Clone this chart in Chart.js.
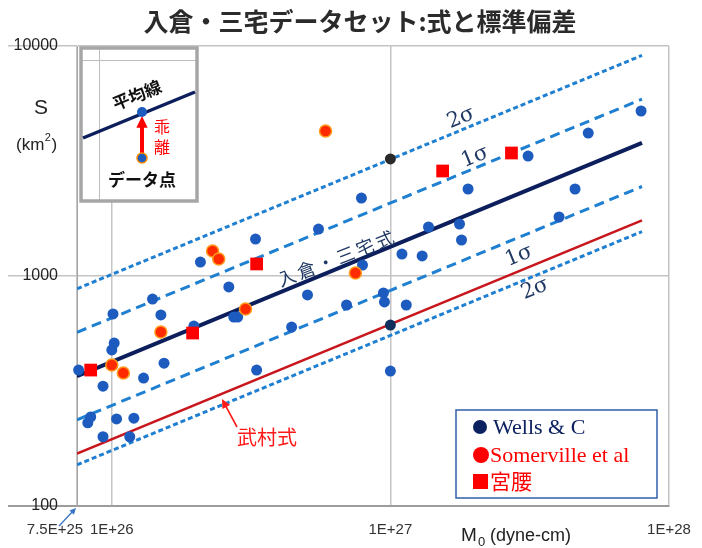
<!DOCTYPE html>
<html>
<head>
    <meta charset="utf-8">
    <title>入倉・三宅データセット</title>
    <style>
        body {
            margin: 0;
            padding: 0;
            background-color: #fff;
        }
        canvas {
            display: block;
        }
    </style>
</head>
<body>
<canvas id="chart" width="702" height="548"></canvas>

<script src="https://cdn.jsdelivr.net/npm/chart.js@4.4.1/dist/chart.umd.min.js"></script>
<script>
    // M0 (dyne-cm) と S (km2)
    const wellsM0 = [7.6e25, 8.4e25, 8.2e25, 9.3e25, 9.3e25, 1.0e26, 1.02e26, 1.01e26, 1.04e26, 1.16e26,
        1.2e26, 1.3e26, 1.4e26, 1.5e26, 1.54e26, 1.97e26, 2.08e26, 2.63e26, 2.74e26, 2.83e26,
        3.28e26, 3.31e26, 4.42e26, 5.04e26, 5.52e26, 6.96e26, 7.87e26, 7.94e26, 9.44e26, 9.52e26,
        1.14e27, 1.0e27, 1.10e27, 1.30e27, 1.37e27, 1.77e27, 1.80e27, 1.90e27, 3.12e27, 4.03e27,
        4.60e27, 5.13e27, 7.94e27];
    const wellsS = [390, 244, 230, 332, 200, 477, 511, 684, 239, 200,
        241, 360, 794, 677, 418, 606, 1150, 896, 663, 663,
        1448, 390, 600, 827, 1600, 748, 2183, 1116, 844, 771,
        748, 386, 1246, 1222, 1633, 1683, 1434, 2389, 3324, 1805,
        2389, 4184, 5217];
    const wellsDarkM0 = [1.0e27, 1.0e27];
    const wellsDarkS = [3230, 612];
    const somervilleM0 = [1.0e26, 1.10e26, 1.5e26, 2.3e26, 2.42e26, 3.02e26, 5.85e26, 7.49e26];
    const somervilleS = [410, 379, 571, 1284, 1186, 719, 4270, 1030];
    const miyakoshiM0 = [8.4e25, 1.95e26, 3.31e26, 1.54e27, 2.72e27];
    const miyakoshiS = [390, 565, 1128, 2861, 3426];

    // 直線の両端
    const lineM0 = [7.5e25, 8.0e27];
    const meanS = [367, 3790];
    const plus1S = [569, 5870];
    const plus2S = [880, 9100];
    const minus1S = [237, 2450];
    const minus2S = [151, 1560];
    const takemuraS = [169, 1744];

    const xTicks = [7.5e25, 1e26, 1e27, 1e28];
    const xTickLabels = ['7.5E+25', '1E+26', '1E+27', '1E+28'];
    const yTicks = [100, 1000, 10000];

    function pairs(xs, ys) {
        return xs.map((x, i) => ({x: x, y: ys[i]}));
    }

    function lineSet(ys, color, width, dash) {
        return {
            data: pairs(lineM0, ys),
            showLine: true,
            borderColor: color,
            borderWidth: width,
            borderDash: dash,
            pointRadius: 0,
            fill: false
        };
    }

    function arrow(ctx, x1, y1, x2, y2, color, width, head) {
        const a = Math.atan2(y2 - y1, x2 - x1);
        ctx.strokeStyle = color;
        ctx.fillStyle = color;
        ctx.lineWidth = width;
        ctx.beginPath();
        ctx.moveTo(x1, y1);
        ctx.lineTo(x2 - Math.cos(a) * head * 0.8, y2 - Math.sin(a) * head * 0.8);
        ctx.stroke();
        ctx.beginPath();
        ctx.moveTo(x2, y2);
        ctx.lineTo(x2 - head * Math.cos(a - 0.45), y2 - head * Math.sin(a - 0.45));
        ctx.lineTo(x2 - head * Math.cos(a + 0.45), y2 - head * Math.sin(a + 0.45));
        ctx.closePath();
        ctx.fill();
    }

    function rotText(ctx, text, x, y, deg) {
        ctx.save();
        ctx.translate(x, y);
        ctx.rotate(deg * Math.PI / 180);
        ctx.fillText(text, 0, 0);
        ctx.restore();
    }

    const extras = {
        id: 'extras',
        afterDraw(chart) {
            const ctx = chart.ctx;
            const xs = chart.scales.x;
            ctx.save();
            ctx.textAlign = 'center';
            ctx.textBaseline = 'middle';

            // タイトル
            ctx.fillStyle = '#2b2b2b';
            ctx.font = 'bold 25px "Noto Sans CJK JP"';
            ctx.fillText('入倉・三宅データセット:式と標準偏差', 360, 21);

            // x 目盛
            ctx.fillStyle = '#333';
            ctx.font = '15px "Liberation Sans"';
            xTicks.forEach((v, i) => {
                let px = xs.getPixelForValue(v);
                if (i === 0) px -= 22;
                ctx.fillText(xTickLabels[i], px, 530);
            });
            arrow(ctx, 59, 526, 76, 508, '#3a72c4', 1.3, 7);

            // 軸タイトル
            ctx.fillStyle = '#222';
            ctx.textAlign = 'left';
            ctx.font = '19px "Liberation Sans"';
            ctx.fillText('M', 461, 536);
            ctx.font = '13px "Liberation Sans"';
            ctx.fillText('0', 478, 542);
            ctx.font = '18px "Liberation Sans"';
            ctx.fillText(' (dyne-cm)', 485, 536);

            ctx.textAlign = 'center';
            ctx.font = '21px "Liberation Sans"';
            ctx.fillText('S', 41, 108);
            ctx.textAlign = 'left';
            let tx = 16;
            ctx.font = '17px "Liberation Sans"';
            ctx.fillText('(km', tx, 145);
            tx += ctx.measureText('(km').width;
            ctx.font = '11px "Liberation Sans"';
            ctx.fillText('2', tx + 0.5, 138);
            tx += ctx.measureText('2').width + 1;
            ctx.font = '17px "Liberation Sans"';
            ctx.fillText(')', tx, 145);

            // 線のラベル
            ctx.textAlign = 'center';
            ctx.fillStyle = '#1f3864';
            ctx.font = '21px "DejaVu Serif"';
            rotText(ctx, '2σ', 461, 118, -22);
            rotText(ctx, '1σ', 475, 157, -22);
            rotText(ctx, '1σ', 519, 256, -22);
            rotText(ctx, '2σ', 535, 289, -22);
            ctx.font = '18px "Noto Sans CJK JP"';
            ctx.letterSpacing = '3px';
            rotText(ctx, '入倉・三宅式', 337, 258, -21);
            ctx.letterSpacing = '0px';

            ctx.fillStyle = '#ff1a1a';
            ctx.font = '20px "Noto Sans CJK JP"';
            ctx.fillText('武村式', 267, 437);
            arrow(ctx, 237, 427, 222, 399, '#ff1a1a', 1.6, 10);

            // 説明図
            ctx.fillStyle = '#fff';
            ctx.fillRect(81, 48, 116, 153);
            ctx.strokeStyle = '#bdbdbd';
            ctx.lineWidth = 1;
            ctx.beginPath();
            ctx.moveTo(99.5, 49);
            ctx.lineTo(99.5, 200);
            ctx.moveTo(82, 60.5);
            ctx.lineTo(196, 60.5);
            ctx.stroke();
            ctx.strokeStyle = '#a6a6a6';
            ctx.lineWidth = 3.5;
            ctx.strokeRect(81, 48, 116, 153);
            ctx.strokeStyle = '#0c1f5c';
            ctx.lineWidth = 3.5;
            ctx.beginPath();
            ctx.moveTo(83, 138);
            ctx.lineTo(195, 92);
            ctx.stroke();
            arrow(ctx, 142, 154, 142, 116, '#ff0000', 4, 13);
            ctx.fillStyle = '#1d5bbf';
            ctx.beginPath();
            ctx.arc(142, 112, 5, 0, Math.PI * 2);
            ctx.fill();
            ctx.beginPath();
            ctx.arc(142, 158, 5, 0, Math.PI * 2);
            ctx.fill();
            ctx.strokeStyle = '#ff8c00';
            ctx.lineWidth = 1.5;
            ctx.stroke();
            ctx.fillStyle = '#111';
            ctx.font = 'bold 17px "Noto Sans CJK JP"';
            rotText(ctx, '平均線', 137, 95, -22);
            ctx.fillText('データ点', 142, 180);
            ctx.fillStyle = '#ff0000';
            ctx.font = '16px "Noto Sans CJK JP"';
            ctx.fillText('乖', 162, 127);
            ctx.fillText('離', 162, 147);

            // 凡例
            ctx.fillStyle = '#fff';
            ctx.fillRect(456, 410, 201, 88);
            ctx.strokeStyle = '#2f5fa8';
            ctx.lineWidth = 1.5;
            ctx.strokeRect(456, 410, 201, 88);
            ctx.textAlign = 'left';
            ctx.fillStyle = '#0b2160';
            ctx.beginPath();
            ctx.arc(480, 427, 7, 0, Math.PI * 2);
            ctx.fill();
            ctx.font = '22px "Liberation Serif"';
            ctx.fillText('Wells & C', 493, 428);
            ctx.fillStyle = '#ff0000';
            ctx.beginPath();
            ctx.arc(481, 455, 8, 0, Math.PI * 2);
            ctx.fill();
            ctx.fillText('Somerville et al', 490, 456);
            ctx.fillRect(473, 474, 15, 15);
            ctx.font = '21px "Noto Sans CJK JP"';
            ctx.fillText('宮腰', 490, 481);

            ctx.restore();
        }
    };

    const ctx = document.getElementById('chart');

    new Chart(ctx, {
        type: 'scatter',
        data: {
            datasets: [
                {
                    label: '宮腰',
                    data: pairs(miyakoshiM0, miyakoshiS),
                    pointStyle: 'rect',
                    pointRadius: 9,
                    backgroundColor: '#ff0000',
                    borderColor: '#ff0000',
                    borderWidth: 0,
                    clip: false
                },
                {
                    label: 'Somerville et al',
                    data: pairs(somervilleM0, somervilleS),
                    pointRadius: 6,
                    backgroundColor: '#ff2a00',
                    borderColor: '#ff9a1a',
                    borderWidth: 1.5,
                    clip: false
                },
                {
                    label: 'Wells & C (dark)',
                    data: pairs(wellsDarkM0, wellsDarkS),
                    pointRadius: 5.5,
                    backgroundColor: ['#2a2a2a', '#12305e'],
                    borderWidth: 0,
                    clip: false
                },
                {
                    label: 'Wells & C',
                    data: pairs(wellsM0, wellsS),
                    pointRadius: 5.5,
                    backgroundColor: '#1d5bbf',
                    borderWidth: 0,
                    clip: false
                },
                lineSet(meanS, '#0c1f5c', 4, []),
                lineSet(plus1S, '#1f7fd0', 3, [10, 6]),
                lineSet(minus1S, '#1f7fd0', 3, [10, 6]),
                lineSet(plus2S, '#1f7fd0', 3, [5, 3]),
                lineSet(minus2S, '#1f7fd0', 3, [5, 3]),
                lineSet(takemuraS, '#c8161d', 2.5, [])
            ]
        },
        options: {
            responsive: false,
            animation: false,
            layout: {
                padding: {left: 0, right: 33, top: 46, bottom: 0}
            },
            plugins: {
                legend: {display: false},
                tooltip: {enabled: false}
            },
            scales: {
                x: {
                    type: 'logarithmic',
                    min: 7.5e25,
                    max: 1e28,
                    afterBuildTicks: s => { s.ticks = xTicks.map(v => ({value: v})); },
                    afterFit: s => { s.height = 42; },
                    grid: {
                        color: '#c4c4c4',
                        lineWidth: 1.5,
                        drawTicks: false
                    },
                    border: {color: '#9c9c9c', width: 2},
                    ticks: {display: false}
                },
                y: {
                    type: 'logarithmic',
                    min: 100,
                    max: 10000,
                    afterBuildTicks: s => { s.ticks = yTicks.map(v => ({value: v})); },
                    afterFit: s => { s.width = 77; },
                    grid: {
                        color: c => (c.tick && c.tick.value === 100) ? '#9c9c9c' : '#c4c4c4',
                        lineWidth: c => (c.tick && c.tick.value === 100) ? 2 : 1.5,
                        tickLength: 69
                    },
                    border: {color: '#a6a6a6', width: 1},
                    ticks: {
                        padding: -50,
                        color: '#222',
                        font: {family: '"Liberation Sans"', size: 16},
                        callback: v => String(v)
                    }
                }
            }
        },
        plugins: [extras]
    });
</script>
</body>
</html>
